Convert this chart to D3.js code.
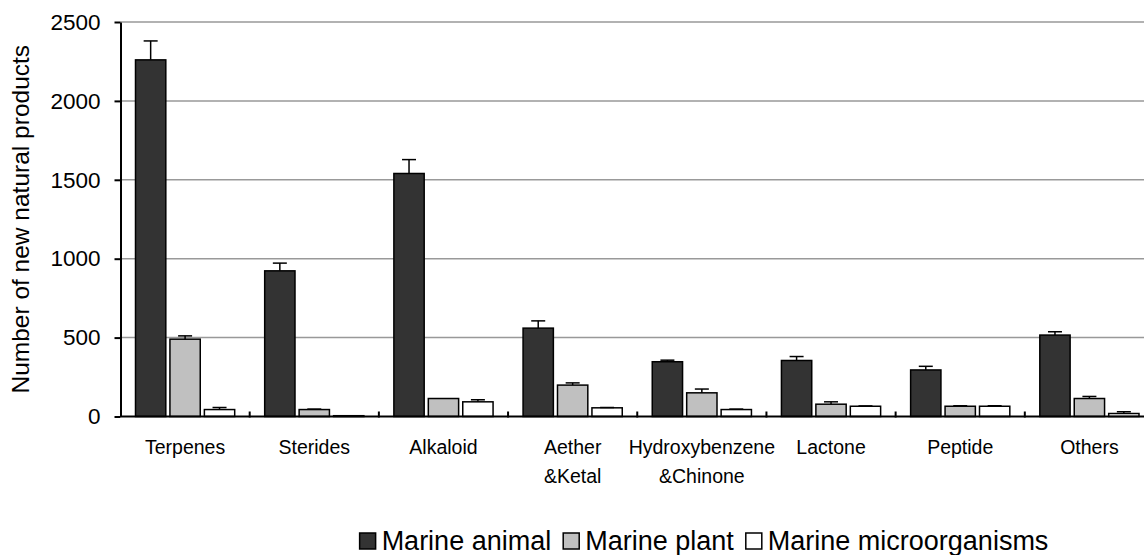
<!DOCTYPE html>
<html>
<head>
<meta charset="utf-8">
<script src="https://cdn.jsdelivr.net/npm/d3@7"></script>
<style>
  body { margin: 0; background: #fff; }
  text { font-family: Arial, "Liberation Sans", sans-serif; fill: #000; }
</style>
</head>
<body>
<div id="vis"></div>
<script>
const categories = ['Terpenes', 'Sterides', 'Alkaloid', 'Aether\n&Ketal',
  'Hydroxybenzene\n&Chinone', 'Lactone', 'Peptide', 'Others'];
const seriesNames = ['Marine animal', 'Marine plant', 'Marine microorganisms'];

const animal = [2260, 923, 1540, 560, 347, 355, 295, 516];
const animalErr = [120, 49, 88, 46, 10, 25, 23, 21];
const plant = [490, 44, 114, 199, 150, 78, 65, 114];
const plantErr = [21, 3, 0, 14, 24, 15, 3, 13];
const micro = [44, 5, 93, 55, 44, 65, 65, 19];
const microErr = [13, 0, 13, 2, 3, 2, 3, 11];

const yTicks = [0, 500, 1000, 1500, 2000, 2500];

const visWidth = 1144;
const visHeight = 555;
const margin = {top: 22, left: 120.5, bottom: 138.5};
const plotRight = 1154;
const height = visHeight - margin.top - margin.bottom;

const fills = ['#333333', '#c0c0c0', '#ffffff'];
const values = [animal, plant, micro];
const errors = [animalErr, plantErr, microErr];

const svg = d3.select('#vis').append('svg')
    .attr('width', visWidth)
    .attr('height', visHeight);

const g = svg.append('g')
    .attr('transform', `translate(${margin.left}, ${margin.top})`);

const width = plotRight - margin.left;

const x = d3.scaleBand()
    .domain(d3.range(categories.length))
    .range([0, width]);

const x1 = d3.scaleBand()
    .domain(d3.range(seriesNames.length))
    .range([15, x.bandwidth() - 15])
    .paddingInner(0.12);

const y = d3.scaleLinear()
    .domain([0, 2500])
    .range([height, 0]);

// gridlines
g.selectAll('.grid')
  .data(yTicks.slice(1))
  .join('line')
    .attr('class', 'grid')
    .attr('x1', 0)
    .attr('x2', width)
    .attr('y1', d => y(d))
    .attr('y2', d => y(d))
    .attr('stroke', '#999')
    .attr('stroke-width', 1.5);

// bars
const groups = g.selectAll('.group')
  .data(categories)
  .join('g')
    .attr('class', 'group')
    .attr('transform', (d, i) => `translate(${x(i)}, 0)`);

const barData = (d, i) => seriesNames.map((s, j) => ({j, v: values[j][i], e: errors[j][i]}));

groups.selectAll('rect')
  .data(barData)
  .join('rect')
    .attr('x', d => x1(d.j))
    .attr('width', x1.bandwidth())
    .attr('y', d => y(d.v))
    .attr('height', d => height - y(d.v))
    .attr('fill', d => fills[d.j])
    .attr('stroke', '#000')
    .attr('stroke-width', 1.5);

// error bars
const err = groups.selectAll('.err')
  .data(barData)
  .join('g')
    .attr('class', 'err')
    .filter(d => d.e > 0);

err.append('line')
    .attr('x1', d => x1(d.j) + x1.bandwidth() / 2)
    .attr('x2', d => x1(d.j) + x1.bandwidth() / 2)
    .attr('y1', d => y(d.v))
    .attr('y2', d => y(d.v + d.e))
    .attr('stroke', '#000')
    .attr('stroke-width', 1.5);

err.append('line')
    .attr('x1', d => x1(d.j) + x1.bandwidth() / 2 - 7)
    .attr('x2', d => x1(d.j) + x1.bandwidth() / 2 + 7)
    .attr('y1', d => y(d.v + d.e))
    .attr('y2', d => y(d.v + d.e))
    .attr('stroke', '#000')
    .attr('stroke-width', 1.5);

// y axis
const yAxis = g.append('g')
    .call(d3.axisLeft(y).tickValues(yTicks).tickFormat(d3.format('d'))
      .tickSize(6).tickPadding(14).tickSizeOuter(0));
yAxis.select('.domain').attr('stroke', '#000').attr('stroke-width', 2);
yAxis.selectAll('.tick line').attr('stroke', '#000').attr('stroke-width', 2);
yAxis.selectAll('.tick text')
    .attr('font-size', 22.5)
    .attr('font-family', 'Arial, "Liberation Sans", sans-serif');

// x axis
const xAxis = g.append('g')
    .attr('transform', `translate(0, ${height})`);
xAxis.append('line')
    .attr('x1', 0)
    .attr('x2', width)
    .attr('stroke', '#000')
    .attr('stroke-width', 2);
xAxis.selectAll('.xtick')
  .data(d3.range(1, categories.length))
  .join('line')
    .attr('class', 'xtick')
    .attr('x1', d => x(d))
    .attr('x2', d => x(d))
    .attr('y1', -5)
    .attr('y2', 1)
    .attr('stroke', '#000')
    .attr('stroke-width', 2);

xAxis.selectAll('.xlabel')
  .data(categories)
  .join('text')
    .attr('class', 'xlabel')
    .attr('text-anchor', 'middle')
    .attr('font-size', 19.5)
    .attr('transform', (d, i) => `translate(${x(i) + x.bandwidth() / 2}, 37)`)
  .selectAll('tspan')
  .data(d => d.split('\n'))
  .join('tspan')
    .attr('x', 0)
    .attr('dy', (d, i) => i === 0 ? 0 : 29)
    .text(d => d);

// y title
svg.append('text')
    .attr('transform', `translate(29, ${margin.top + height / 2}) rotate(-90)`)
    .attr('text-anchor', 'middle')
    .attr('font-size', 24.5)
    .text('Number of new natural products');

// legend
const legend = svg.append('g');
let lx = 0;
seriesNames.forEach((name, j) => {
  const item = legend.append('g').attr('transform', `translate(${lx}, 0)`);
  item.append('rect')
      .attr('x', 0)
      .attr('y', -17)
      .attr('width', 16)
      .attr('height', 16)
      .attr('fill', fills[j])
      .attr('stroke', '#000')
      .attr('stroke-width', 1.5);
  const t = item.append('text')
      .attr('x', 22)
      .attr('y', 0)
      .attr('font-size', 27)
      .text(name);
  lx += 22 + t.node().getComputedTextLength() + 12;
});
const legendWidth = lx - 12;
legend.attr('transform', `translate(${704 - legendWidth / 2}, 550)`);
</script>
</body>
</html>
